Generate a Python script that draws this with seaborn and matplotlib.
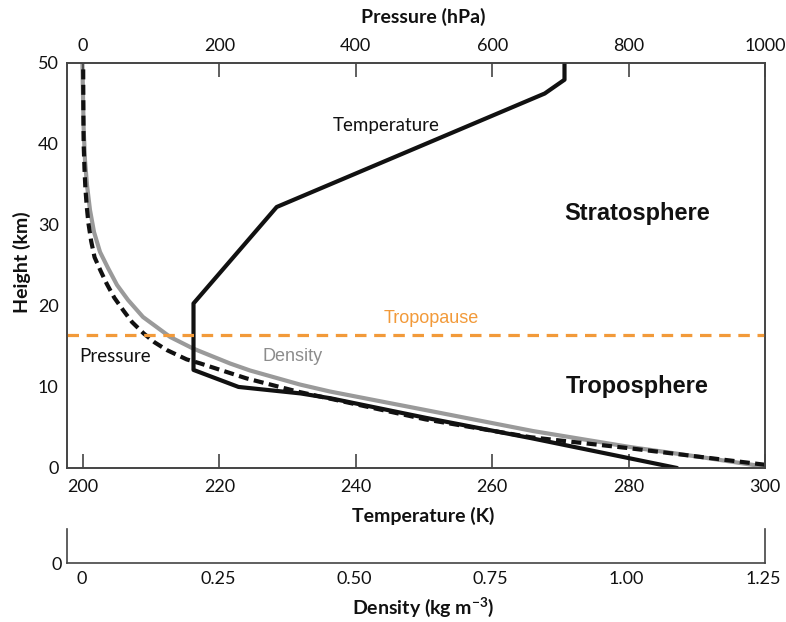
import matplotlib
matplotlib.use("Agg")
import matplotlib.pyplot as plt
import seaborn as sns
import pandas as pd

# ---- data ----
temp_K = [287.1, 265.6, 250.2, 236.3, 231.9, 222.8, 216.2, 216.2, 228.4, 267.7, 270.6, 270.6]
temp_h = [0.0, 3.7, 6.2, 8.6, 9.2, 10.0, 12.1, 20.3, 32.2, 46.2, 47.9, 50.0]

pres_hPa = [1000, 800, 656, 502, 316, 240, 172, 152, 123, 105, 89, 72, 59.5, 46, 35, 26, 17, 12, 8, 5.5, 3.5, 2.2, 1.0, 0.6, 0.3]
pres_h = [0.4, 2.45, 3.8, 6.0, 9.4, 11.05, 12.9, 13.4, 14.55, 15.5, 16.6, 18.0, 19.4, 21.0, 22.7, 24.3, 26.0, 28.0, 30.2, 32.3, 34.6, 37.0, 40.0, 44.0, 50.0]

dens_kgm3 = [1.25, 1.135, 1.006, 0.828, 0.630, 0.455, 0.400, 0.364, 0.3085, 0.272, 0.204,
             0.162, 0.112, 0.0845, 0.0643, 0.0478, 0.0331, 0.0221, 0.0147, 0.0092, 0.0055, 0.003, 0.0008]
dens_h = [0.2, 1.36, 2.59, 4.56, 7.16, 9.44, 10.30, 10.98, 12.03, 12.89, 14.74,
          16.16, 18.63, 20.73, 22.58, 24.67, 26.65, 29.11, 31.83, 34.9, 38.0, 42.0, 50.0]

tropopause_h = 16.4

temp_ticks = [200, 220, 240, 260, 280, 300]
pres_ticks = [0, 200, 400, 600, 800, 1000]
height_ticks = [0, 10, 20, 30, 40, 50]
dens_ticks = [0, 0.25, 0.50, 0.75, 1.00, 1.25]
dens_ticklabels = ["0", "0.25", "0.50", "0.75", "1.00", "1.25"]

sns.set_style("white")
plt.rcParams["font.family"] = ["Lato", "DejaVu Sans"]

W, H = 786, 622
fig = plt.figure(figsize=(W / 100, H / 100), dpi=100)

def fx(px):
    return px / W

def fy(py):
    return 1 - py / H

L, R, T, B = 67, 765, 62.7, 468
ax = fig.add_axes([fx(L), fy(B), fx(R) - fx(L), fy(T) - fy(B)])
spine_col = "#444444"
orange = "#F29A3A"

df_t = pd.DataFrame({"T": temp_K, "h": temp_h})
df_p = pd.DataFrame({"p": pres_hPa, "h": pres_h})
df_d = pd.DataFrame({"rho": dens_kgm3, "h": dens_h})

ax.set_xlim(197.65, 300.0)
ax.set_ylim(0, 50)

# density curve on its own twin x-axis
ax_d = ax.twiny()
ax_d.set_xlim(-0.0275, 1.254)
sns.lineplot(data=df_d, x="rho", y="h", ax=ax_d, sort=False, estimator=None,
             color="#9a9a9a", linewidth=3.0)
ax_d.lines[-1].set_solid_joinstyle("round")
ax_d.set_ylim(0, 50)
ax_d.axis("off")

# pressure curve on top axis
ax_p = ax.twiny()
ax_p.set_xlim(-23.4, 1000)
sns.lineplot(data=df_p, x="p", y="h", ax=ax_p, sort=False, estimator=None,
             color="#111111", linewidth=3.0, dashes=False)
ax_p.lines[-1].set_linestyle((0, (2.4, 1.3)))
ax_p.set_ylim(0, 50)

# temperature curve
sns.lineplot(data=df_t, x="T", y="h", ax=ax, sort=False, estimator=None,
             color="#111111", linewidth=3.0)
ax.set_zorder(ax_p.get_zorder() + 1)
ax.patch.set_visible(False)

ax.axhline(tropopause_h, color=orange, linewidth=2.3, linestyle=(0, (3.6, 2.4)))

# ticks / spines
for a in (ax, ax_p):
    for s in a.spines.values():
        s.set_color(spine_col)
        s.set_linewidth(1.2)
ax.set_xticks(temp_ticks)
ax.set_xticklabels([str(t) for t in temp_ticks])
ax.set_yticks(height_ticks)
ax.tick_params(axis="both", direction="in", length=10, width=1.2, color=spine_col,
               labelsize=13, pad=6, labelcolor="#111111")
ax.tick_params(axis="x", pad=8)
ax_p.set_xticks(pres_ticks)
ax_p.tick_params(axis="x", direction="in", length=10, width=1.2, color=spine_col,
                 labelsize=13, pad=6, labelcolor="#111111")
ax_p.set_xlabel("")
ax_p.set_ylabel("")
ax.set_xlabel("")
ax.set_ylabel("")
ax_p.yaxis.set_visible(False)

# annotations
ax.text(244.5, 42.3, "Temperature", fontsize=13.5, ha="center", va="center", color="#111111")
ax.text(204.7, 13.8, "Pressure", fontsize=13.5, ha="center", va="center", color="#111111")
ax.text(230.7, 13.8, "Density", fontsize=13, ha="center", va="center", color="#8c8c8c",
        family=["Liberation Sans", "DejaVu Sans"])
ax.text(251.1, 18.5, "Tropopause", fontsize=13, ha="center", va="center", color=orange,
        family=["Liberation Sans", "DejaVu Sans"])
ax.text(281.3, 31.4, "Stratosphere", fontsize=17, ha="center", va="center", color="#111111",
        fontweight="bold", family=["Liberation Sans", "DejaVu Sans"])
ax.text(281.3, 10.0, "Troposphere", fontsize=17, ha="center", va="center", color="#111111",
        fontweight="bold", family=["Liberation Sans", "DejaVu Sans"])

# density axis below
axd2 = fig.add_axes([fx(L), fy(563), fx(R) - fx(L), fy(529) - fy(563)])
axd2.set_xlim(-0.0275, 1.254)
axd2.set_ylim(0, 1)
axd2.set_xticks(dens_ticks)
axd2.set_xticklabels(dens_ticklabels)
axd2.set_yticks([0])
axd2.set_yticklabels(["0"])
axd2.spines["top"].set_visible(False)
for s in ("left", "right", "bottom"):
    axd2.spines[s].set_color(spine_col)
    axd2.spines[s].set_linewidth(1.2)
axd2.tick_params(axis="x", direction="in", length=10, width=1.2, color=spine_col,
                 labelsize=13, pad=6, labelcolor="#111111")
axd2.tick_params(axis="y", length=0, labelsize=13, pad=4, labelcolor="#111111")
axd2.patch.set_visible(False)

# axis titles
fig.text(fx(423), fy(17), "Pressure (hPa)", fontsize=14, fontweight="bold",
         ha="center", va="center", color="#111111")
fig.text(fx(423), fy(516), "Temperature (K)", fontsize=14, fontweight="bold",
         ha="center", va="center", color="#111111")
fig.text(fx(423), fy(607), "Density (kg m$^{\\mathregular{-3}}$)", fontsize=14, fontweight="bold",
         ha="center", va="center", color="#111111")
fig.text(fx(22), fy(262), "Height (km)", fontsize=14, fontweight="bold", rotation=90,
         ha="center", va="center", color="#111111")

fig.savefig("out.png", dpi=100)
